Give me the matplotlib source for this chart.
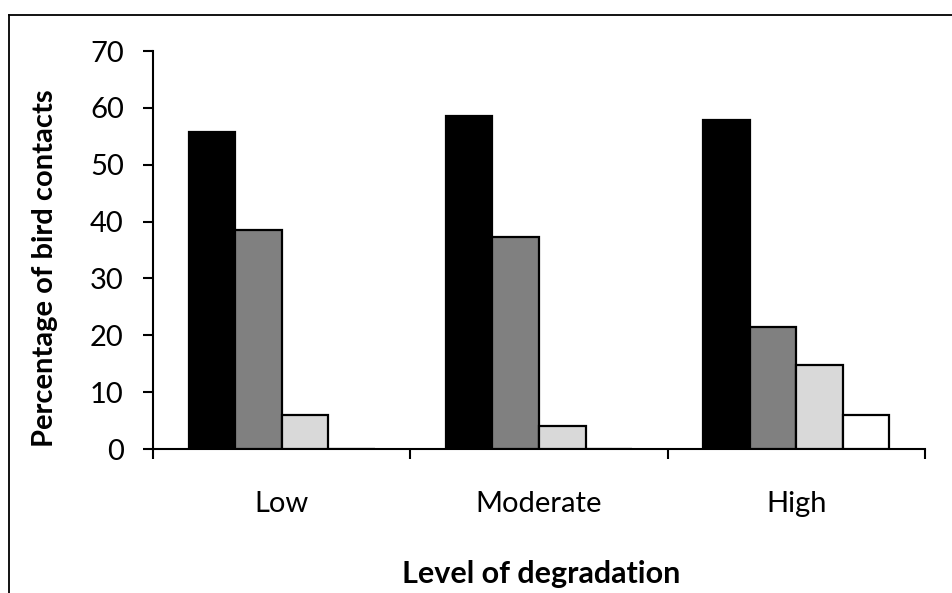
import matplotlib
matplotlib.use("Agg")
import matplotlib.pyplot as plt
import numpy as np
from matplotlib.lines import Line2D

categories = ["Low", "Moderate", "High"]
series_black = [55.7, 58.5, 57.9]
series_dgray = [38.5, 37.3, 21.4]
series_lgray = [5.9, 4.1, 14.8]
series_white = [0.0, 0.0, 5.9]
series = [series_black, series_dgray, series_lgray, series_white]
colors = ["#000000", "#808080", "#d9d9d9", "#ffffff"]
yticks = [0, 10, 20, 30, 40, 50, 60, 70]

plt.rcParams['font.family'] = ['Lato', 'DejaVu Sans']

W, H = 952, 593
fig = plt.figure(figsize=(W / 100, H / 100), dpi=100)
ax = fig.add_axes([153 / W, 1 - 449 / H, (925 - 153) / W, (449 - 51) / H])

x = np.arange(len(categories))
w = 0.181
offsets = [-1.5 * w, -0.5 * w, 0.5 * w, 1.5 * w]
for vals, c, off in zip(series, colors, offsets):
    ax.bar(x + off, vals, width=w, color=c, edgecolor="black", linewidth=1.6, zorder=3)

ax.set_xlim(-0.5, 2.5)
ax.set_ylim(0, 70)
ax.set_yticks(yticks)
ax.set_yticklabels([str(v) for v in yticks], fontsize=21)
ax.tick_params(axis="y", direction="out", length=7, width=1.5, pad=14)

ax.set_xticks(x)
ax.set_xticklabels(categories, fontsize=21)
ax.tick_params(axis="x", which="major", length=0, pad=30)
ax.set_xticks([-0.5, 0.5, 1.5, 2.5], minor=True)
ax.tick_params(axis="x", which="minor", direction="out", length=7, width=1.5)

for s in ["top", "right"]:
    ax.spines[s].set_visible(False)
for s in ["left", "bottom"]:
    ax.spines[s].set_linewidth(1.5)

fig.text(45 / W, 1 - 268 / H, "Percentage of bird contacts", rotation=90,
         ha="center", va="center", fontsize=21, fontweight="bold")
fig.text(541 / W, 1 - 574 / H, "Level of degradation",
         ha="center", va="center", fontsize=22, fontweight="bold")

# outer frame (top and left edges)
fig.add_artist(Line2D([9 / W, 1.0], [1 - 15 / H, 1 - 15 / H], transform=fig.transFigure,
                      color="black", linewidth=1.3))
fig.add_artist(Line2D([9 / W, 9 / W], [0.0, 1 - 15 / H], transform=fig.transFigure,
                      color="black", linewidth=1.3))

fig.savefig("out.png", dpi=100)
